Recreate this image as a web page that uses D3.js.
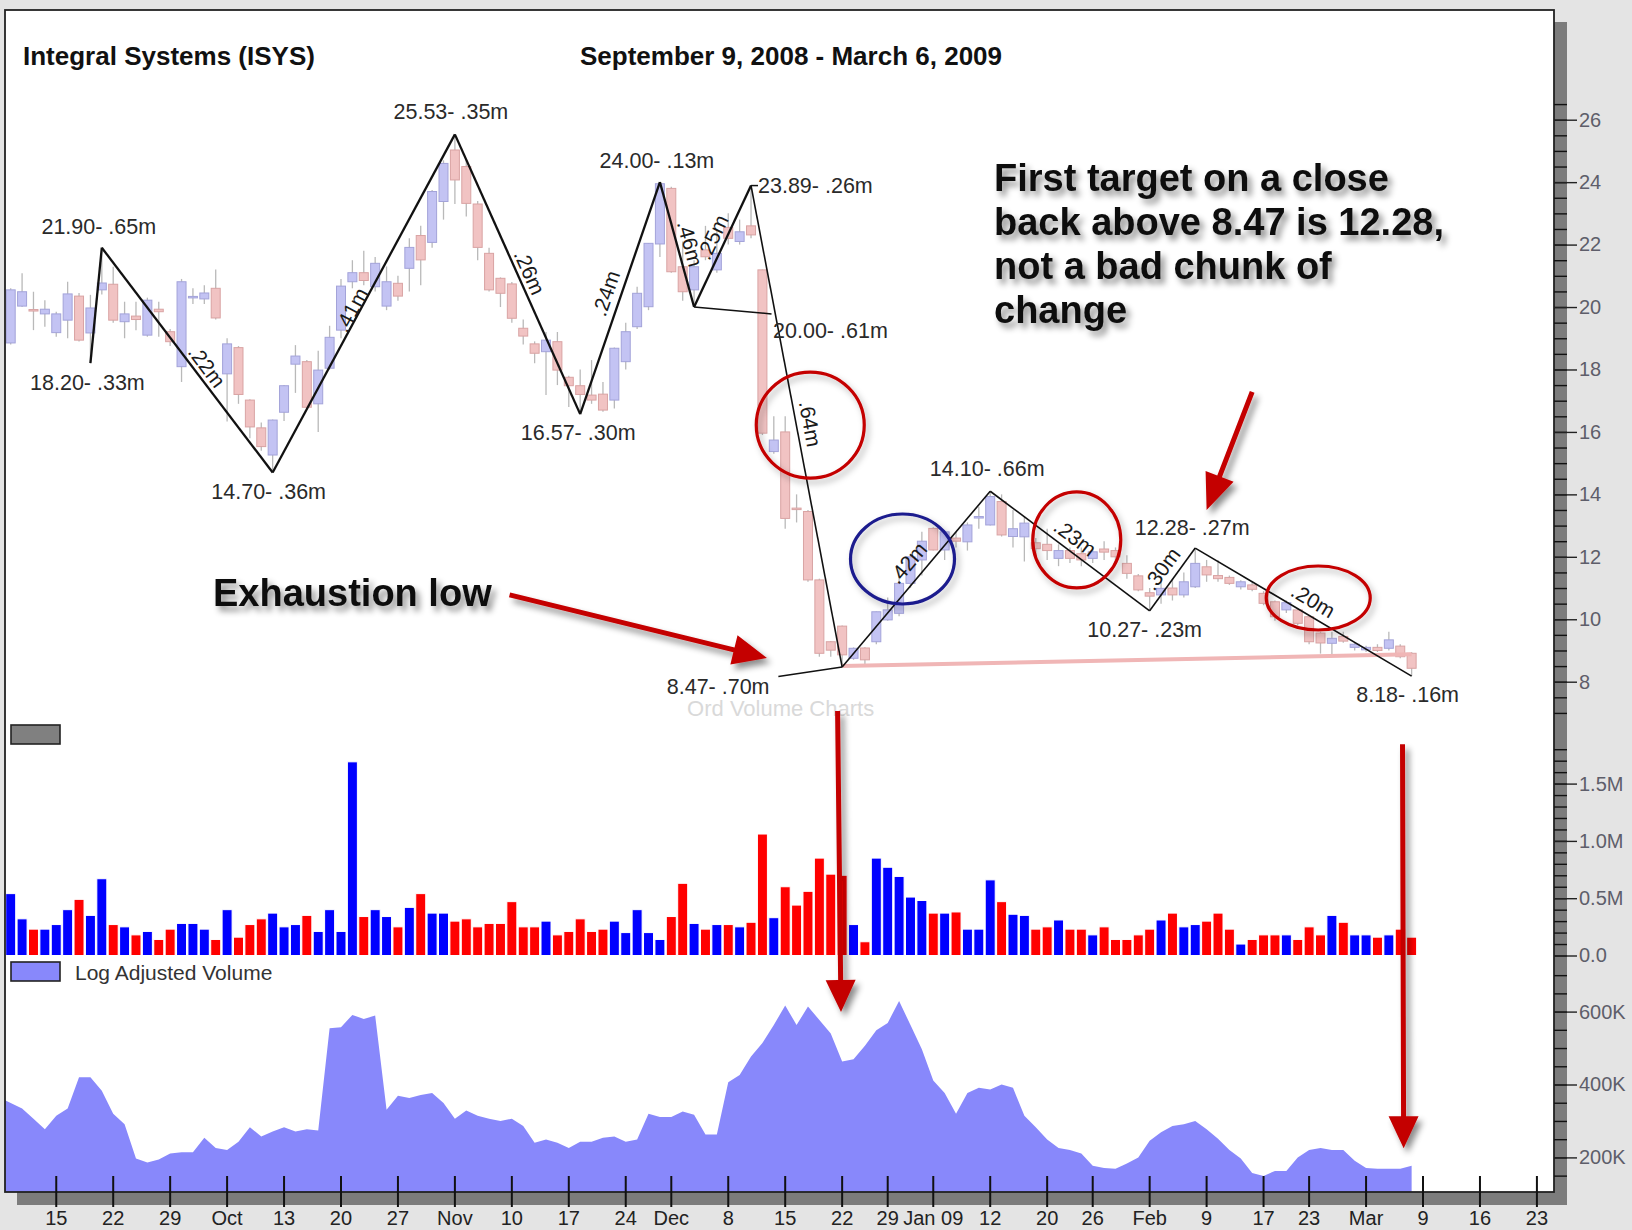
<!DOCTYPE html>
<html>
<head>
<meta charset="utf-8">
<script src="https://cdn.jsdelivr.net/npm/d3@7"></script>
<style>
  body { margin: 0; background: #e4e4e4; }
  svg { display: block; font-family: "Liberation Sans", Arial, sans-serif; }
</style>
</head>
<body>
<div id="chart"></div>
<script>
// ---- data ----
const holidays = ["2008-11-27", "2008-12-25", "2009-01-01", "2009-01-19", "2009-02-16"];
const monthNames = ["Jan 09", "Feb", "Mar", "Apr", "May", "Jun", "Jul", "Aug", "Sep", "Oct", "Nov", "Dec"];

// daily candles, Sep 9 2008 - Mar 6 2009: [open, high, low, close]
const candles = [
  [18.85, 20.60, 18.80, 20.55], [20.03, 21.08, 20.00, 20.49], [19.92, 20.49, 19.26, 19.88], [19.78, 20.22, 19.37, 19.93],
  [19.18, 19.85, 19.05, 19.78], [19.58, 20.81, 19.00, 20.42], [20.35, 20.45, 18.90, 18.94], [19.17, 20.39, 18.20, 19.97],
  [20.55, 21.90, 20.40, 20.77], [20.73, 21.29, 19.50, 19.58], [19.53, 20.17, 19.00, 19.78], [19.71, 20.17, 19.26, 19.60],
  [19.10, 20.30, 19.05, 20.22], [19.93, 20.17, 19.05, 19.85], [19.21, 19.30, 18.75, 18.89], [18.09, 20.90, 17.60, 20.81],
  [20.32, 20.60, 20.10, 20.34], [20.26, 20.70, 20.10, 20.45], [20.60, 21.20, 19.60, 19.65], [17.86, 19.00, 16.33, 18.82],
  [18.70, 18.75, 16.90, 17.20], [17.02, 17.05, 15.80, 16.16], [16.13, 16.30, 15.40, 15.53], [15.26, 16.40, 14.70, 16.38],
  [16.63, 17.50, 16.35, 17.48], [18.17, 18.78, 17.25, 18.43], [18.25, 18.30, 16.75, 16.79], [16.90, 18.60, 16.00, 17.98],
  [18.04, 19.40, 18.00, 19.03], [19.26, 20.90, 19.00, 20.67], [20.81, 21.50, 20.60, 21.10], [21.10, 21.80, 20.70, 20.85],
  [20.65, 21.60, 20.50, 21.40], [20.03, 21.30, 19.90, 20.81], [20.76, 21.00, 20.20, 20.35], [21.24, 22.20, 20.50, 21.91],
  [22.29, 22.60, 20.70, 21.51], [22.07, 23.75, 21.90, 23.70], [23.38, 24.70, 22.80, 24.60], [25.03, 25.53, 23.30, 24.07],
  [24.50, 24.70, 22.90, 23.32], [23.30, 23.40, 21.50, 21.91], [21.72, 21.90, 20.50, 20.55], [20.92, 20.95, 20.00, 20.44],
  [20.74, 20.80, 19.50, 19.64], [19.32, 19.60, 18.80, 19.07], [18.82, 18.90, 18.20, 18.52], [18.57, 19.20, 17.18, 18.94],
  [18.89, 19.20, 17.50, 17.98], [17.75, 17.80, 16.80, 17.48], [17.48, 18.00, 16.57, 17.20], [17.18, 18.30, 16.90, 17.02],
  [17.21, 17.60, 16.65, 16.70], [17.02, 18.70, 16.75, 18.68], [18.25, 19.50, 18.00, 19.21], [19.37, 20.65, 19.30, 20.44],
  [20.01, 22.05, 19.90, 22.04], [22.02, 24.00, 21.60, 23.95], [23.80, 23.85, 21.10, 21.13], [21.29, 22.10, 20.20, 20.49],
  [20.55, 21.50, 20.00, 21.29], [21.83, 22.60, 21.50, 21.61], [21.19, 22.50, 21.10, 21.72], [22.55, 23.00, 22.00, 22.20],
  [22.10, 22.80, 22.00, 22.41], [22.60, 23.89, 22.20, 22.31], [21.19, 21.20, 15.90, 15.96], [15.37, 16.50, 15.30, 15.74],
  [16.00, 16.50, 12.90, 13.23], [13.56, 14.00, 13.10, 13.54], [13.45, 13.50, 11.20, 11.26], [11.26, 11.30, 8.80, 8.91],
  [9.28, 9.30, 8.80, 9.01], [9.78, 9.80, 8.47, 8.86], [8.75, 9.10, 8.70, 9.07], [9.08, 9.10, 8.55, 8.70],
  [9.28, 10.25, 9.20, 10.24], [9.98, 10.70, 9.95, 10.30], [10.19, 11.60, 10.10, 11.15], [11.15, 12.10, 11.00, 12.00],
  [11.90, 12.80, 11.40, 12.50], [12.91, 12.95, 12.20, 12.22], [12.22, 12.85, 11.90, 12.80], [12.60, 12.80, 12.30, 12.50],
  [12.48, 13.10, 12.20, 13.02], [13.27, 13.60, 12.90, 13.29], [13.02, 14.10, 13.00, 13.93], [13.77, 14.00, 12.65, 12.70],
  [12.65, 13.50, 12.30, 12.90], [12.64, 13.30, 11.85, 13.08], [12.45, 12.60, 12.00, 12.26], [12.40, 12.90, 11.90, 12.20],
  [11.95, 12.40, 11.70, 12.20], [12.20, 12.30, 11.80, 11.95], [12.10, 12.30, 11.70, 11.90], [11.95, 12.30, 11.80, 12.16],
  [12.25, 12.50, 11.90, 12.15], [12.20, 12.30, 11.80, 12.00], [11.79, 12.05, 11.30, 11.47], [11.39, 11.45, 10.90, 10.94],
  [10.85, 11.00, 10.27, 10.74], [10.78, 11.30, 10.50, 10.99], [11.00, 11.30, 10.60, 10.78], [10.78, 11.50, 10.70, 11.20],
  [11.04, 12.28, 11.00, 11.79], [11.68, 11.90, 11.20, 11.42], [11.40, 11.90, 11.20, 11.30], [11.34, 11.40, 11.10, 11.15],
  [11.04, 11.25, 10.95, 11.20], [11.10, 11.20, 10.90, 10.96], [10.83, 10.90, 10.45, 10.51], [10.56, 10.60, 9.95, 10.08],
  [10.30, 10.60, 10.20, 10.53], [10.30, 10.35, 9.80, 9.87], [10.08, 10.10, 9.20, 9.28], [9.56, 9.60, 8.90, 9.24],
  [9.23, 9.60, 8.80, 9.39], [9.45, 9.60, 9.25, 9.30], [9.10, 9.25, 9.00, 9.20], [9.02, 9.15, 8.95, 9.10],
  [9.10, 9.20, 8.95, 9.00], [9.07, 9.60, 9.00, 9.34], [9.14, 9.20, 8.75, 8.80], [8.91, 8.95, 8.18, 8.43]
];

// daily volume, millions of shares
const volume = [
  0.54, 0.32, 0.23, 0.23, 0.27, 0.40, 0.49, 0.35, 0.67, 0.27, 0.25, 0.18, 0.21, 0.14, 0.23, 0.28,
  0.28, 0.23, 0.14, 0.40, 0.16, 0.27, 0.32, 0.37, 0.25, 0.27, 0.35, 0.21, 0.40, 0.21, 1.69, 0.34,
  0.40, 0.34, 0.25, 0.42, 0.54, 0.37, 0.37, 0.30, 0.32, 0.25, 0.28, 0.28, 0.47, 0.25, 0.25, 0.30,
  0.18, 0.21, 0.32, 0.21, 0.23, 0.30, 0.20, 0.40, 0.20, 0.14, 0.34, 0.63, 0.28, 0.23, 0.27, 0.27,
  0.25, 0.29, 1.06, 0.33, 0.60, 0.44, 0.56, 0.85, 0.71, 0.70, 0.27, 0.12, 0.85, 0.77, 0.69, 0.51,
  0.48, 0.37, 0.37, 0.38, 0.23, 0.23, 0.66, 0.47, 0.36, 0.35, 0.23, 0.25, 0.31, 0.23, 0.23, 0.18,
  0.25, 0.14, 0.14, 0.18, 0.23, 0.31, 0.37, 0.25, 0.27, 0.30, 0.37, 0.23, 0.10, 0.14, 0.18, 0.18,
  0.18, 0.14, 0.25, 0.18, 0.35, 0.29, 0.18, 0.18, 0.16, 0.18, 0.23, 0.16
];

// log adjusted volume, thousands of shares
const logVolume = [
  357, 334, 306, 277, 314, 334, 420, 420, 383, 320, 291, 197, 186, 194, 211, 214,
  214, 254, 226, 220, 243, 283, 257, 271, 283, 271, 277, 274, 554, 557, 591, 580,
  589, 331, 369, 363, 371, 377, 349, 306, 329, 314, 306, 300, 306, 286, 240, 249,
  240, 226, 243, 243, 254, 257, 243, 249, 320, 311, 311, 326, 317, 263, 263, 406,
  426, 477, 514, 563, 617, 563, 614, 577, 540, 463, 469, 506, 549, 569, 629, 563,
  497, 411, 377, 320, 377, 391, 386, 400, 391, 314, 283, 249, 226, 220, 211, 177,
  171, 169, 183, 200, 246, 269, 286, 291, 300, 277, 251, 220, 197, 157, 149, 163,
  163, 200, 220, 226, 220, 220, 191, 171, 169, 169, 169, 177
];

// swing points: [day index, price, volume text]
const swings = [
  [7, 18.20, ".33m"], [8, 21.90, ".65m"], [23, 14.70, ".36m"], [39, 25.53, ".35m"],
  [50, 16.57, ".30m"], [57, 24.00, ".13m"], [60, 20.00, ".61m"], [65, 23.89, ".26m"],
  [73, 8.47, ".70m"], [86, 14.10, ".66m"], [100, 10.27, ".23m"], [104, 12.28, ".27m"],
  [123, 8.18, ".16m"]
];
// label of each leg between consecutive swing points (null = none)
const legLabels = [null, ".22m", ".41m", ".26m", ".24m", ".46m", ".25m", ".64m", ".42m", ".23m", ".30m", ".20m"];

const priceTicks = [8, 10, 12, 14, 16, 18, 20, 22, 24, 26];
const volumeTicks = [0, 0.5, 1.0, 1.5];
const logVolumeTicks = [200, 400, 600];

const noteLines = ["First target on a close", "back above 8.47 is 12.28,", "not a bad chunk of", "change"];

// ---- layout ----
const W = 1632, H = 1230;
const box = { left: 5, top: 10, right: 1554, bottom: 1192 };

const fmtDay = d3.timeFormat("%Y-%m-%d");
const days = d3.timeDay.range(new Date(2008, 8, 9), new Date(2009, 2, 25))
  .filter(d => d.getDay() % 6 !== 0 && !holidays.includes(fmtDay(d)));

const x = d3.scaleBand()
  .domain(d3.range(days.length))
  .range([box.left, box.right])
  .padding(0);
const cx = i => x(i) + x.bandwidth() / 2;
// fractional day position, for annotations between bars
const cxf = v => x(0) + (v + 0.5) * x.step();

const y = d3.scaleLinear().domain([8, 26]).range([681.7, 119.7]);
const yVol = d3.scaleLinear().domain([0, 1.5]).range([955.5, 783.6]);
const yLog = d3.scaleLinear().domain([200, 600]).range([1157.4, 1011.6]);

const svg = d3.select("#chart").append("svg")
  .attr("width", W)
  .attr("height", H);

const defs = svg.append("defs");
defs.append("filter").attr("id", "shadow")
  .attr("x", "-20%").attr("y", "-20%").attr("width", "150%").attr("height", "160%")
  .append("feDropShadow")
  .attr("dx", 4).attr("dy", 5).attr("stdDeviation", 3)
  .attr("flood-color", "#000").attr("flood-opacity", 0.45);
defs.append("filter").attr("id", "softShadow")
  .attr("x", "-20%").attr("y", "-20%").attr("width", "150%").attr("height", "150%")
  .append("feDropShadow")
  .attr("dx", 3).attr("dy", 4).attr("stdDeviation", 3)
  .attr("flood-color", "#000").attr("flood-opacity", 0.3);

// background, frame shadow and white plot box
svg.append("rect").attr("width", W).attr("height", H).attr("fill", "#e4e4e4");
svg.append("rect")
  .attr("x", box.left + 12).attr("y", box.top + 12)
  .attr("width", box.right - box.left + 1).attr("height", box.bottom - box.top + 1)
  .attr("fill", "#7c7c7c");
svg.append("rect")
  .attr("x", box.left).attr("y", box.top)
  .attr("width", box.right - box.left).attr("height", box.bottom - box.top)
  .attr("fill", "#fff");

// log adjusted volume area
const area = d3.area()
  .x((d, i) => i === 0 ? box.left : cx(i))
  .y0(box.bottom)
  .y1(d => yLog(d));
svg.append("path")
  .datum(logVolume)
  .attr("d", area)
  .attr("fill", "#8888fb");

// volume bars
const up = candles.map(c => c[3] >= c[0]);
svg.append("g").selectAll("rect")
  .data(volume)
  .join("rect")
  .attr("x", (d, i) => cx(i) - 5)
  .attr("y", d => yVol(d))
  .attr("width", 10)
  .attr("height", d => yVol(0) - yVol(d))
  .attr("fill", (d, i) => up[i] ? "#0000ff" : "#ff0000")
  .attr("stroke", "#fff")
  .attr("stroke-width", 1);

// candles
const cg = svg.append("g");
cg.selectAll("line")
  .data(candles)
  .join("line")
  .attr("x1", (d, i) => cx(i)).attr("x2", (d, i) => cx(i))
  .attr("y1", d => y(d[1])).attr("y2", d => y(d[2]))
  .attr("stroke", "#b9b9b9")
  .attr("stroke-width", 1.3);
cg.selectAll("rect")
  .data(candles)
  .join("rect")
  .attr("x", (d, i) => cx(i) - 4.5)
  .attr("y", d => y(Math.max(d[0], d[3])))
  .attr("width", 9)
  .attr("height", d => Math.max(1.5, Math.abs(y(d[0]) - y(d[3]))))
  .attr("fill", (d, i) => up[i] ? "#c3c3f3" : "#f1c3c3")
  .attr("stroke", (d, i) => up[i] ? "#a3a3d9" : "#d9a3a3")
  .attr("stroke-width", 1);

// support line from the exhaustion low
svg.append("line")
  .attr("x1", cx(73)).attr("y1", y(8.50))
  .attr("x2", cx(123)).attr("y2", y(8.88))
  .attr("stroke", "#f0b6b6")
  .attr("stroke-width", 4);

// zig-zag swing lines
const pts = swings.map(s => [cx(s[0]), y(s[1])]);
const zz = svg.append("g").attr("stroke", "#111").attr("fill", "none");
pts.slice(1).forEach((p, k) => {
  zz.append("line")
    .attr("x1", pts[k][0]).attr("y1", pts[k][1])
    .attr("x2", p[0]).attr("y2", p[1])
    .attr("stroke-width", k < 7 ? 2.3 : 1.6);
});
// connectors to the two offset labels
zz.append("line")
  .attr("x1", pts[6][0]).attr("y1", pts[6][1])
  .attr("x2", cxf(66.8)).attr("y2", y(19.78))
  .attr("stroke-width", 1.5);
zz.append("line")
  .attr("x1", pts[8][0]).attr("y1", pts[8][1])
  .attr("x2", cxf(67.4)).attr("y2", y(8.17))
  .attr("stroke-width", 1.5);
zz.append("line")
  .attr("x1", pts[7][0]).attr("y1", pts[7][1])
  .attr("x2", pts[7][0] + 7).attr("y2", pts[7][1])
  .attr("stroke-width", 1.5);

// swing labels: [dx, dy, anchor]
const swingLabelPos = [
  [-3, 27, "middle"], [-3, -14, "middle"], [-4, 26, "middle"], [-4, -15, "middle"],
  [-2, 26, "middle"], [-3, -14, "middle"], [79, 31, "start"], [7, 7, "start"],
  [-124, 27, "middle"], [-3, -15, "middle"], [-5, 26, "middle"], [-3, -13, "middle"],
  [-4, 26, "middle"]
];
svg.append("g").selectAll("text")
  .data(swings)
  .join("text")
  .attr("x", (d, i) => pts[i][0] + swingLabelPos[i][0])
  .attr("y", (d, i) => pts[i][1] + swingLabelPos[i][1])
  .attr("text-anchor", (d, i) => swingLabelPos[i][2])
  .attr("font-size", 21.5)
  .attr("fill", "#2a2a2a")
  .text(d => `${d[1].toFixed(2)}- ${d[2]}`);

// leg labels along the lines: [fraction along leg, offset above the leg]
const legLabelPos = [null, [0.56, 12], [0.47, 8], [0.51, 12], [0.5, 15], [0.52, 13], [0.53, 13],
  [0.5, 14], [0.53, 17], [0.48, 14], [0.53, 15], [0.51, 15]];
const legG = svg.append("g");
legLabels.forEach((lab, k) => {
  if (!lab) return;
  const [a, b] = [pts[k], pts[k + 1]];
  const dx = b[0] - a[0], dy = b[1] - a[1], len = Math.hypot(dx, dy);
  const [t, off] = legLabelPos[k];
  const nx = dy / len, ny = -dx / len;
  const px = a[0] + dx * t + nx * off, py = a[1] + dy * t + ny * off;
  const ang = Math.atan2(dy, dx) * 180 / Math.PI;
  legG.append("text")
    .attr("transform", `translate(${px},${py}) rotate(${ang})`)
    .attr("text-anchor", "middle")
    .attr("dominant-baseline", "central")
    .attr("font-size", 21)
    .attr("fill", "#1a1a1a")
    .text(lab);
});

// watermark
svg.append("text")
  .attr("x", cxf(67.6)).attr("y", 716)
  .attr("text-anchor", "middle")
  .attr("font-size", 22)
  .attr("fill", "#d9d9d9")
  .text("Ord Volume Charts");

// circles: [day, price, rx, ry, colour]
const circles = [
  [70.2, 16.22, 54, 53, "#c40000"],
  [78.3, 11.93, 52, 45, "#1c1c8e"],
  [93.6, 12.54, 44, 48, "#c40000"],
  [114.8, 10.68, 52, 32, "#c40000"]
];
svg.append("g").selectAll("ellipse")
  .data(circles)
  .join("ellipse")
  .attr("cx", d => cxf(d[0])).attr("cy", d => y(d[1]))
  .attr("rx", d => d[2]).attr("ry", d => d[3])
  .attr("fill", "none")
  .attr("stroke", d => d[4])
  .attr("stroke-width", 3.2)
  .attr("filter", "url(#softShadow)");

// red arrows
function arrowPath(x1, y1, x2, y2, sw, hl, hw) {
  const len = Math.hypot(x2 - x1, y2 - y1);
  const ux = (x2 - x1) / len, uy = (y2 - y1) / len;
  const nx = -uy, ny = ux;
  const bx = x2 - ux * hl, by = y2 - uy * hl;
  const p = [
    [x1 + nx * sw / 2, y1 + ny * sw / 2], [bx + nx * sw / 2, by + ny * sw / 2],
    [bx + nx * hw / 2, by + ny * hw / 2], [x2, y2],
    [bx - nx * hw / 2, by - ny * hw / 2], [bx - nx * sw / 2, by - ny * sw / 2],
    [x1 - nx * sw / 2, y1 - ny * sw / 2]
  ];
  return "M" + p.map(q => q.join(",")).join("L") + "Z";
}
const arrows = [
  [cxf(43.8), y(10.78), cxf(66.4), y(8.76), 34, 30],
  [cxf(109), y(17.28), cxf(105), y(13.5), 36, 30],
  [cxf(72.6), y(7.06), cxf(72.9), yLog(599), 32, 30],
  [cxf(122.2), y(6.0), cxf(122.3), yLog(225), 32, 30]
];
svg.append("g").selectAll("path")
  .data(arrows)
  .join("path")
  .attr("d", d => arrowPath(d[0], d[1], d[2], d[3], 5, d[4], d[5]))
  .attr("fill", "#c40000")
  .attr("filter", "url(#shadow)");

// titles and notes
svg.append("text")
  .attr("x", 23).attr("y", 65)
  .attr("font-size", 26).attr("font-weight", "bold").attr("fill", "#111")
  .text("Integral Systems (ISYS)");
svg.append("text")
  .attr("x", 580).attr("y", 65)
  .attr("font-size", 26).attr("font-weight", "bold").attr("fill", "#111")
  .text("September 9, 2008 - March 6, 2009");

const note = svg.append("text")
  .attr("font-size", 38).attr("font-weight", "bold").attr("fill", "#111")
  .attr("filter", "url(#shadow)");
note.selectAll("tspan")
  .data(noteLines)
  .join("tspan")
  .attr("x", 994)
  .attr("y", (d, i) => 191 + i * 44)
  .text(d => d);

svg.append("text")
  .attr("x", 213).attr("y", 606)
  .attr("font-size", 38).attr("font-weight", "bold").attr("fill", "#111")
  .attr("filter", "url(#shadow)")
  .text("Exhaustion low");

// legends
svg.append("rect")
  .attr("x", 11).attr("y", 725).attr("width", 49).attr("height", 19)
  .attr("fill", "#808080").attr("stroke", "#222").attr("stroke-width", 1.6);
svg.append("rect")
  .attr("x", 11).attr("y", 962).attr("width", 49).attr("height", 19)
  .attr("fill", "#8888fb").attr("stroke", "#222").attr("stroke-width", 1.6);
svg.append("text")
  .attr("x", 75).attr("y", 980)
  .attr("font-size", 21).attr("fill", "#333")
  .text("Log Adjusted Volume");

// plot border
svg.append("rect")
  .attr("x", box.left).attr("y", box.top)
  .attr("width", box.right - box.left).attr("height", box.bottom - box.top)
  .attr("fill", "none").attr("stroke", "#222").attr("stroke-width", 1.8);

// right axes
function rightAxis(scale, major, minor, fmt) {
  const gMinor = svg.append("g")
    .attr("transform", `translate(${box.right},0)`)
    .call(d3.axisRight(scale).tickValues(minor).tickSize(13).tickFormat(""));
  gMinor.select(".domain").remove();
  gMinor.selectAll("line").attr("stroke", "#111").attr("stroke-width", 1.4);
  const gMajor = svg.append("g")
    .attr("transform", `translate(${box.right},0)`)
    .call(d3.axisRight(scale).tickValues(major).tickSize(23).tickPadding(2).tickFormat(fmt));
  gMajor.select(".domain").remove();
  gMajor.selectAll("line").attr("stroke", "#222").attr("stroke-width", 1.4);
  gMajor.selectAll("text")
    .attr("font-family", "\"Liberation Sans\", Arial, sans-serif")
    .attr("font-size", 20).attr("fill", "#5e5e6a");
}
rightAxis(y, priceTicks, d3.range(7, 26.6, 0.5), d3.format("d"));
rightAxis(yVol, volumeTicks, d3.range(0, 1.85, 0.1), d => d === 0 ? "0.0" : d.toFixed(1) + "M");
rightAxis(yLog, logVolumeTicks, d3.range(150, 701, 50), d => d + "K");

// bottom axis: first trading day of each week
const weekStarts = d3.range(1, days.length).filter(i => days[i].getDay() < days[i - 1].getDay());
const gx = svg.append("g")
  .attr("transform", `translate(0,${box.bottom})`)
  .call(d3.axisBottom(x).tickValues(weekStarts).tickSize(15).tickPadding(4)
    .tickFormat(i => days[i].getDate() <= 7 ? monthNames[days[i].getMonth()] : String(days[i].getDate())));
gx.select(".domain").remove();
gx.selectAll(".tick line").attr("y1", -16).attr("stroke", "#111").attr("stroke-width", 2);
gx.selectAll("text")
  .attr("font-family", "\"Liberation Sans\", Arial, sans-serif")
  .attr("font-size", 20).attr("fill", "#222");
</script>
</body>
</html>
